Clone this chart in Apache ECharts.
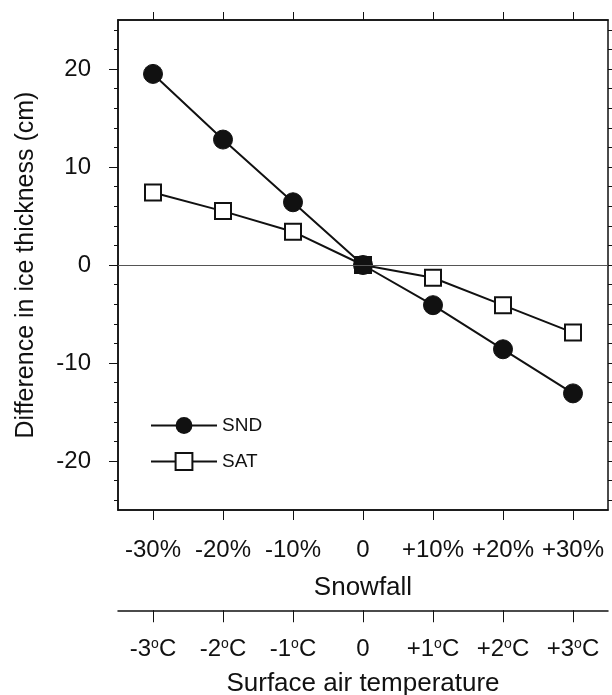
<!DOCTYPE html>
<html>
<head>
<meta charset="utf-8">
<script src="https://cdn.jsdelivr.net/npm/echarts@6/dist/echarts.min.js"></script>
<style>
  html, body { margin: 0; padding: 0; background: #fff; }
  #chart { width: 612px; height: 695px; }
</style>
</head>
<body>
<div id="chart"></div>
<script>
  // categories / tick labels
  var snowLabels = ['-30%', '-20%', '-10%', '0', '+10%', '+20%', '+30%']
  var tempLabels = ['-3', '-2', '-1', '0', '+1', '+2', '+3']
  // series values (cm)
  var snd = [19.5, 12.8, 6.4, 0, -4.1, -8.6, -13.1]
  var sat = [7.4, 5.5, 3.4, 0, -1.3, -4.1, -6.9]
  // y ticks
  var yMajor = [-20, -10, 0, 10, 20]
  var yMinor = [-24, -22, -18, -16, -14, -12, -8, -6, -4, -2, 2, 4, 6, 8, 12, 14, 16, 18, 22, 24]

  var ink = '#111'
  var font = 'Liberation Sans, Arial, sans-serif'

  function yAx (pos, ticks, len, withLabels) {
    return {
      type: 'value', position: pos, min: -25, max: 25, gridIndex: 0,
      axisLine: { show: withLabels, lineStyle: { color: ink, width: 1.5 } },
      splitLine: { show: false },
      axisTick: { show: true, inside: false, length: len, customValues: ticks, lineStyle: { color: ink, width: 1 } },
      axisLabel: withLabels && pos === 'left' ? { show: true, customValues: yMajor, margin: 27, fontSize: 24, color: ink, fontFamily: font } : { show: false }
    }
  }

  var leftMain = yAx('left', yMajor, 9, true)
  leftMain.name = 'Difference in ice thickness (cm)'
  leftMain.nameLocation = 'middle'
  leftMain.nameGap = 79
  leftMain.nameTextStyle = { fontSize: 25, color: ink, fontFamily: font }

  var option = {
    animation: false,
    grid: [
      { left: 118, right: 4, top: 20, bottom: 185, show: true, borderColor: ink, borderWidth: 1.5 },
      { left: 118, right: 4, top: 610, height: 1 }
    ],
    legend: {
      orient: 'vertical', left: 145, top: 411,
      itemWidth: 66, itemHeight: 21, itemGap: 17,
      textStyle: { fontSize: 19, color: ink, fontFamily: font },
      data: ['SND', 'SAT']
    },
    xAxis: [
      {
        type: 'category', data: snowLabels, gridIndex: 0, position: 'bottom',
        axisLine: { show: true, onZero: false, lineStyle: { color: ink, width: 1.5 } },
        axisTick: { show: true, alignWithLabel: true, length: 10, lineStyle: { color: ink } },
        axisLabel: { interval: 0, margin: 28, fontSize: 24, color: ink, fontFamily: font },
        name: 'Snowfall', nameLocation: 'middle', nameGap: 65,
        nameTextStyle: { fontSize: 26, color: ink, fontFamily: font }
      },
      {
        type: 'category', data: snowLabels, gridIndex: 0, position: 'top',
        axisLine: { show: true, onZero: false, lineStyle: { color: ink, width: 1.5 } },
        axisTick: { show: true, alignWithLabel: true, length: 8, lineStyle: { color: ink } },
        axisLabel: { show: false }
      },
      {
        type: 'category', data: tempLabels, gridIndex: 1, position: 'bottom',
        axisLine: { show: true, onZero: false, lineStyle: { color: ink, width: 1.5 } },
        axisTick: { show: true, alignWithLabel: true, length: 12, lineStyle: { color: ink } },
        axisLabel: {
          interval: 0, margin: 27, fontSize: 24, color: ink, fontFamily: font,
          formatter: function (v) { return v === '0' ? v : v + '{sup|o}C' },
          rich: { sup: { fontSize: 14, color: ink, fontFamily: font, verticalAlign: 'top', padding: [0, 0, 10, 0] } }
        },
        name: 'Surface air temperature', nameLocation: 'middle', nameGap: 61,
        nameTextStyle: { fontSize: 26, color: ink, fontFamily: font }
      }
    ],
    yAxis: [
      leftMain,
      yAx('left', yMinor, 4, false),
      yAx('right', yMajor, 9, false),
      yAx('right', yMinor, 4, false),
      { type: 'value', gridIndex: 1, min: 0, max: 1, show: false }
    ],
    series: [
      {
        name: 'SND', type: 'line', data: snd, xAxisIndex: 0, yAxisIndex: 0,
        symbol: 'circle', symbolSize: 19,
        lineStyle: { color: ink, width: 2 },
        itemStyle: { color: ink, borderColor: ink },
        markLine: {
          silent: true, symbol: 'none', label: { show: false },
          lineStyle: { color: '#555', width: 1, type: 'solid' },
          data: [{ yAxis: 0 }]
        }
      },
      {
        name: 'SAT', type: 'line', xAxisIndex: 0, yAxisIndex: 0,
        data: sat.map(function (v, i) { return v === 0 ? { value: v, itemStyle: { color: ink } } : v }),
        symbol: 'rect', symbolSize: 16,
        lineStyle: { color: ink, width: 2 },
        itemStyle: { color: '#fff', borderColor: ink, borderWidth: 2 }
      }
    ]
  }

  var myChart = echarts.init(document.getElementById('chart'))
  myChart.setOption(option)
</script>
</body>
</html>
